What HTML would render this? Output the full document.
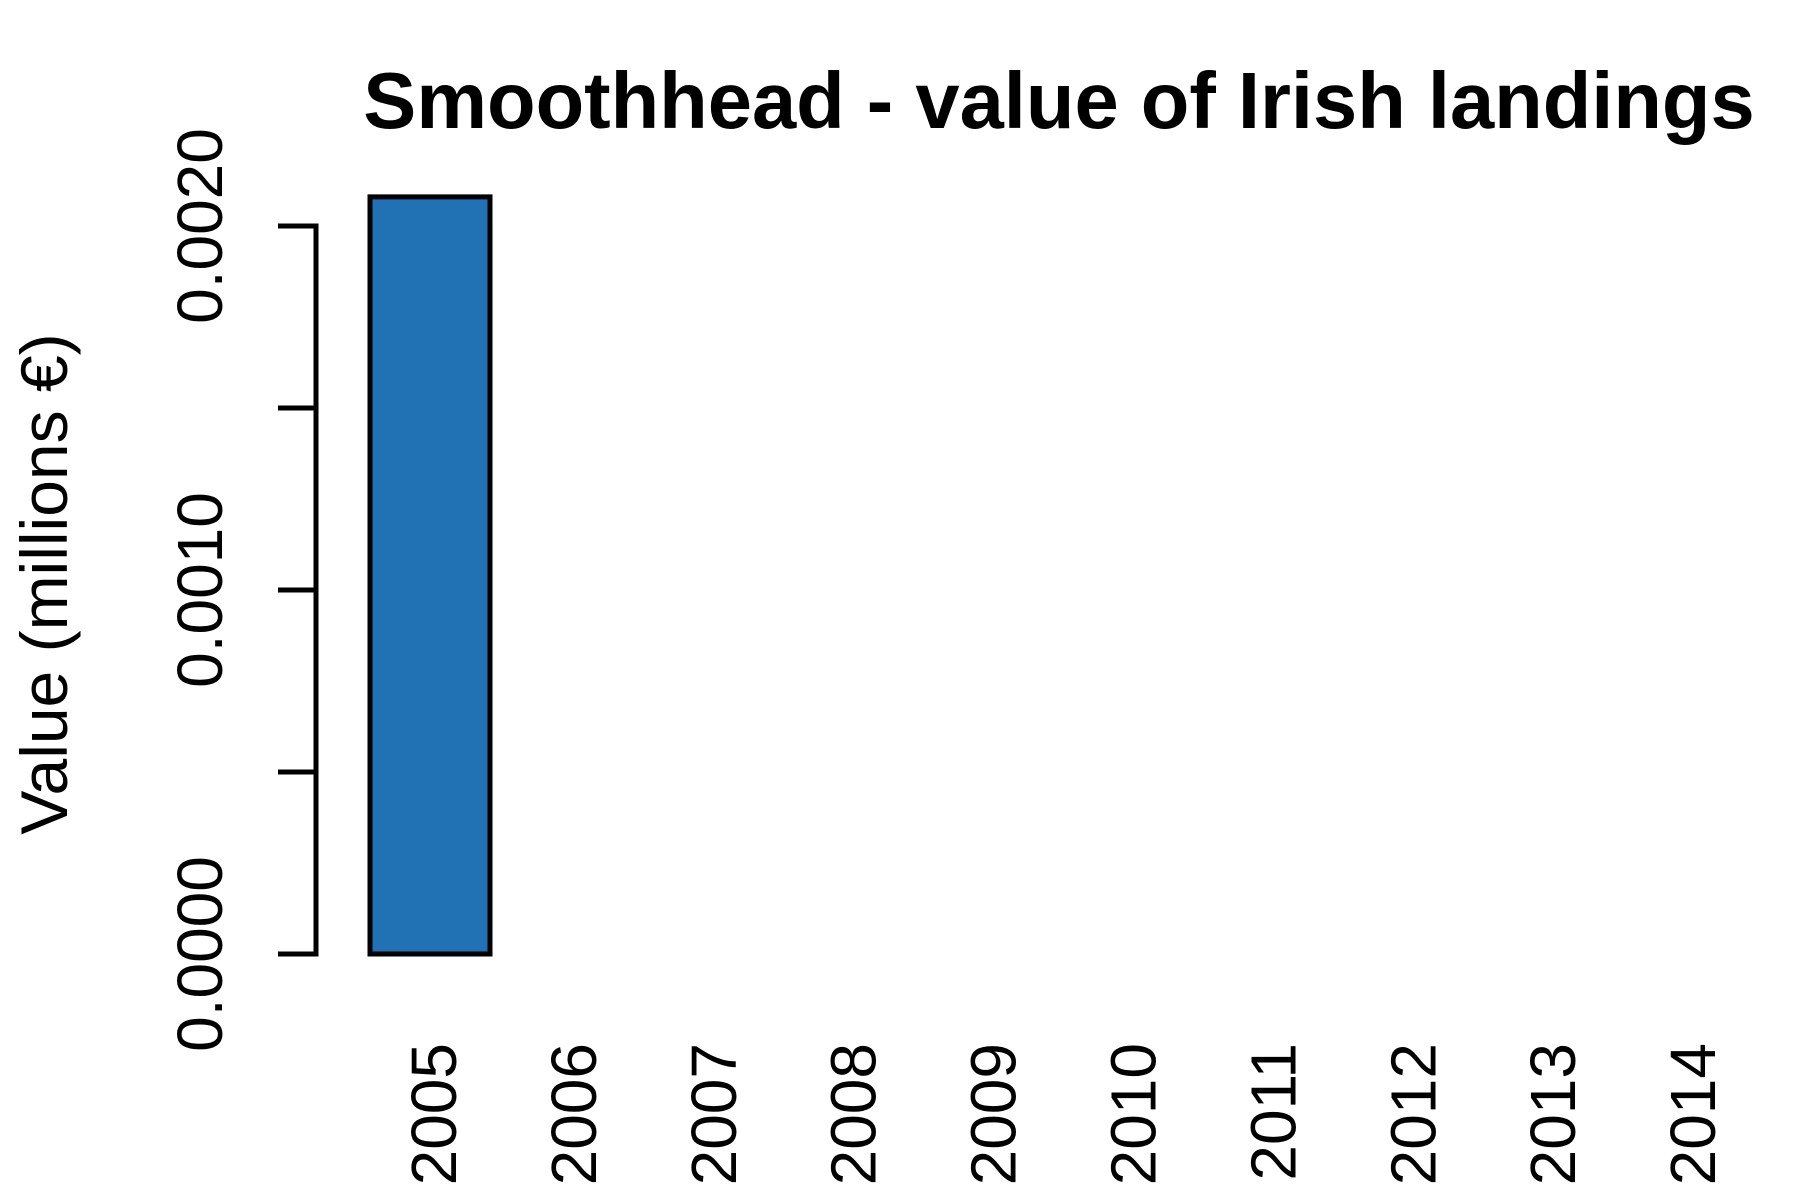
<!DOCTYPE html>
<html><head><meta charset="utf-8"><style>
body{margin:0;background:#fff}
svg{display:block}
text{font-family:"Liberation Sans",sans-serif;fill:#000}
</style></head><body>
<svg id="chart" width="1800" height="1200" viewBox="0 0 1800 1200" xmlns="http://www.w3.org/2000/svg">
<text x="1059" y="128" font-size="79.5" font-weight="bold" text-anchor="middle">Smoothhead - value of Irish landings</text>
<text transform="translate(67,584) rotate(-90)" font-size="66" text-anchor="middle">Value (millions €)</text>
<g id="axes"></g>
<g id="bars"></g>
</svg>
<script>
const categories = ["2005","2006","2007","2008","2009","2010","2011","2012","2013","2014"];
const values = [0.00208, null, null, null, null, null, null, null, null, null];
const yTicks = [0, 0.0005, 0.001, 0.0015, 0.002];
const yTickLabels = ["0.0000", "", "0.0010", "", "0.0020"];

const NS = "http://www.w3.org/2000/svg";
const axes = document.getElementById("axes");
const bars = document.getElementById("bars");
const y0 = 954, y1 = 226;
function yScale(v){ return y0 - (v / 0.002) * (y0 - y1); }
const step = 139.9, barW = 120, firstCenter = 430;
function xCenter(i){ return firstCenter + i * step; }
function mk(tag, attrs){ const e = document.createElementNS(NS, tag); for (const k in attrs) e.setAttribute(k, attrs[k]); return e; }

const axisLine = mk("line", {x1:316, x2:316, y1:yScale(0), y2:yScale(0.002), stroke:"#000", "stroke-width":5, "stroke-linecap":"square"});


axes.appendChild(axisLine);

yTicks.forEach((t, i) => {
  const y = yScale(t);
  const tk = mk("line", {x1:278, x2:316, y1:y, y2:y, stroke:"#000", "stroke-width":5});
  
  
  axes.appendChild(tk);
  if (yTickLabels[i]) {
    const tx = mk("text", {transform:"translate(222," + y + ") rotate(-90)", "font-size":64, "text-anchor":"middle"});
    
    
    tx.textContent = yTickLabels[i];
    axes.appendChild(tx);
  }
});

categories.forEach((c, i) => {
  const tx = mk("text", {transform:"translate(" + (xCenter(i) + 26) + ",1043) rotate(-90)", "font-size":64, "text-anchor":"end"});
  
  
  tx.textContent = c;
  axes.appendChild(tx);
  const v = values[i];
  if (v !== null && v !== undefined) {
    const top = yScale(v);
    const r = mk("rect", {x:xCenter(i) - barW/2, y:top, width:barW, height:yScale(0) - top, fill:"#2171b5", stroke:"#000", "stroke-width":5});
    
    
    bars.appendChild(r);
  }
});
</script>
</body></html>
